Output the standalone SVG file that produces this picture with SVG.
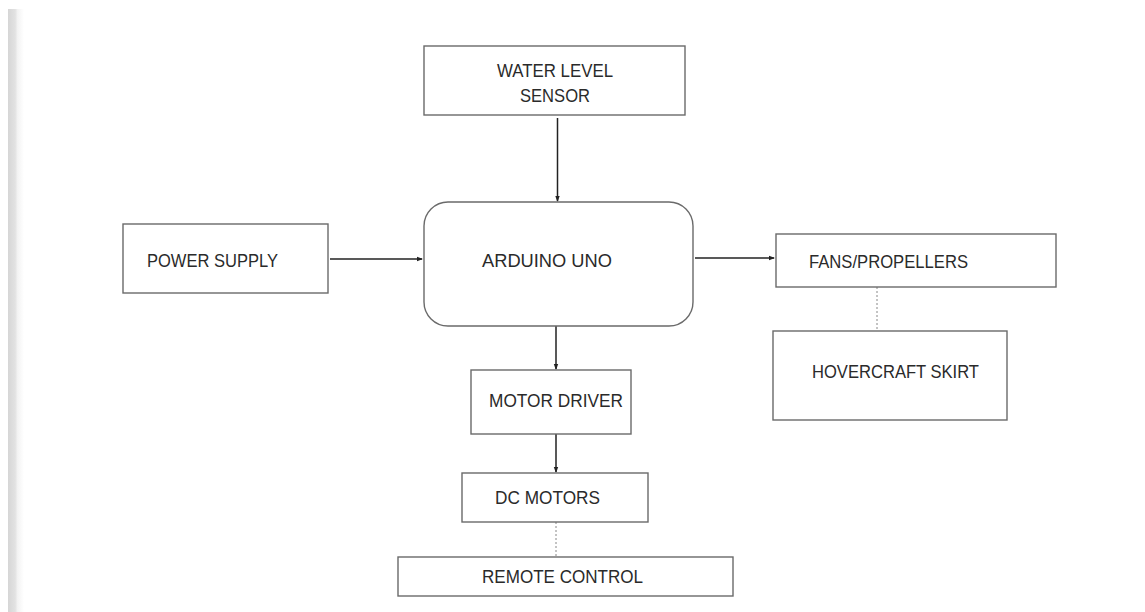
<svg xmlns="http://www.w3.org/2000/svg" width="1145" height="612" viewBox="0 0 1145 612">
<defs>
<linearGradient id="bar" x1="0" y1="0" x2="1" y2="0">
<stop offset="0" stop-color="#d6d6d6"/>
<stop offset="0.45" stop-color="#e2e2e2"/>
<stop offset="0.6" stop-color="#f3f3f3"/>
<stop offset="1" stop-color="#ffffff"/>
</linearGradient>
<marker id="ah" markerWidth="6" markerHeight="6" refX="5" refY="3" orient="auto" markerUnits="userSpaceOnUse">
<path d="M0,0.8 L6,3 L0,5.2 Z" fill="#222"/>
</marker>
</defs>
<style>
.box{fill:#fff;stroke:#6a6a6a;stroke-width:1.4}
.lbl{font-family:"Liberation Sans",Arial,sans-serif;font-size:18px;fill:#2a2a2a}
.arr{stroke:#222;stroke-width:1.5;fill:none;marker-end:url(#ah)}
.dot{stroke:#888;stroke-width:1;stroke-dasharray:2 2;fill:none}
</style>
<rect width="1145" height="612" fill="#fff"/>
<rect x="8" y="9" width="16" height="603" fill="url(#bar)"/>

<g id="connectors">
<line class="arr" x1="557.5" y1="118" x2="557.5" y2="201"/>
<line class="arr" x1="330" y1="259" x2="422" y2="259"/>
<line class="arr" x1="695" y1="258" x2="774" y2="258"/>
<line class="arr" x1="556" y1="326" x2="556" y2="369"/>
<line class="arr" x1="556" y1="434" x2="556" y2="472"/>
<line class="dot" x1="877" y1="287" x2="877" y2="331"/>
<line class="dot" x1="556" y1="522" x2="556" y2="557"/>
</g>

<g id="water-level-sensor">
<rect class="box" x="424" y="46" width="261" height="69"/>
<text class="lbl" x="555" y="77" text-anchor="middle" textLength="116" lengthAdjust="spacingAndGlyphs">WATER LEVEL</text>
<text class="lbl" x="555" y="102" text-anchor="middle" textLength="70" lengthAdjust="spacingAndGlyphs">SENSOR</text>
</g>

<g id="arduino-uno">
<rect class="box" x="424" y="202" width="269" height="124" rx="24" ry="24"/>
<text class="lbl" x="482" y="267" textLength="130" lengthAdjust="spacingAndGlyphs">ARDUINO UNO</text>
</g>

<g id="power-supply">
<rect class="box" x="123" y="224" width="205" height="69"/>
<text class="lbl" x="147" y="267" textLength="131" lengthAdjust="spacingAndGlyphs">POWER SUPPLY</text>
</g>

<g id="fans-propellers">
<rect class="box" x="776" y="234" width="280" height="53"/>
<text class="lbl" x="809" y="268" textLength="159" lengthAdjust="spacingAndGlyphs">FANS/PROPELLERS</text>
</g>

<g id="hovercraft-skirt">
<rect class="box" x="773" y="331" width="234" height="89"/>
<text class="lbl" x="812" y="378" textLength="167" lengthAdjust="spacingAndGlyphs">HOVERCRAFT SKIRT</text>
</g>

<g id="motor-driver">
<rect class="box" x="471" y="370" width="160" height="64"/>
<text class="lbl" x="489" y="407" textLength="134" lengthAdjust="spacingAndGlyphs">MOTOR DRIVER</text>
</g>

<g id="dc-motors">
<rect class="box" x="462" y="473" width="186" height="49"/>
<text class="lbl" x="495" y="504" textLength="105" lengthAdjust="spacingAndGlyphs">DC MOTORS</text>
</g>

<g id="remote-control">
<rect class="box" x="398" y="557" width="335" height="39"/>
<text class="lbl" x="482" y="583" textLength="161" lengthAdjust="spacingAndGlyphs">REMOTE CONTROL</text>
</g>
</svg>
